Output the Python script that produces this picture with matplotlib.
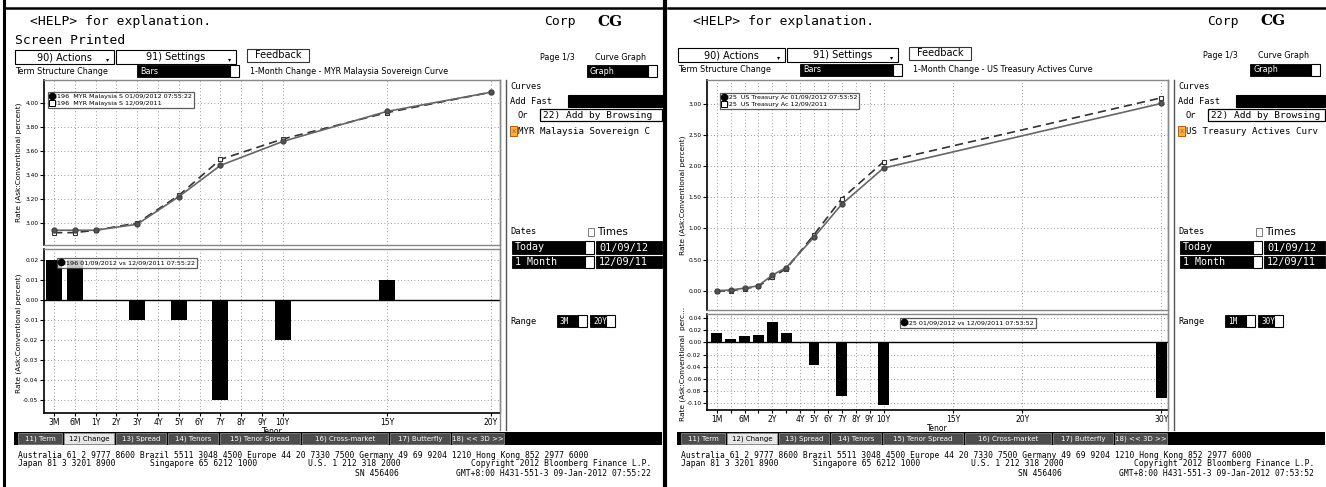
import matplotlib.pyplot as plt
from matplotlib.patches import Rectangle
from matplotlib.lines import Line2D

W, H = 1326, 487

# MYR Malaysia Sovereign curve (left screen)
myr_tick_pos = [0, 1, 2, 3, 4, 5, 6, 7, 8, 9, 10, 11, 16, 21]
myr_tick_labels = ['3M', '6M', '1Y', '2Y', '3Y', '4Y', '5Y', '6Y', '7Y', '8Y', '9Y', '10Y', '15Y', '20Y']
myr_pos = [0, 1, 2, 4, 6, 8, 11, 16, 21]
myr_today = [2.94, 2.94, 2.94, 2.99, 3.22, 3.48, 3.68, 3.93, 4.09]
myr_month = [2.92, 2.92, 2.94, 3.00, 3.23, 3.53, 3.70, 3.92, 4.09]
myr_change = [0.02, 0.02, 0.00, -0.01, -0.01, -0.05, -0.02, 0.01, 0.00]
myr_rate_ticks = [4.00, 3.80, 3.60, 3.40, 3.20, 3.00]
myr_change_ticks = [0.02, 0.01, 0.00, -0.01, -0.02, -0.03, -0.04, -0.05]

# US Treasury Actives curve (right screen)
ust_tick_pos = [0, 1, 2, 3, 4, 5, 6, 7, 8, 9, 10, 11, 12, 17, 22, 32]
ust_tick_labels = ['1M', '', '6M', '', '2Y', '', '4Y', '5Y', '6Y', '7Y', '8Y', '9Y', '10Y', '15Y', '20Y', '30Y']
ust_pos = [0, 1, 2, 3, 4, 5, 7, 9, 12, 32]
ust_today = [0.00, 0.01, 0.04, 0.08, 0.25, 0.37, 0.86, 1.39, 1.97, 3.01]
ust_month = [-0.01, 0.00, 0.03, 0.07, 0.22, 0.35, 0.90, 1.48, 2.07, 3.10]
ust_change = [0.015, 0.006, 0.010, 0.012, 0.034, 0.016, -0.037, -0.089, -0.103, -0.091]
ust_rate_ticks = [3.00, 2.50, 2.00, 1.50, 1.00, 0.50, 0.00]
ust_change_ticks = [0.04, 0.02, 0.00, -0.02, -0.04, -0.06, -0.08, -0.10]

tabs = ['11) Term', '12) Change', '13) Spread', '14) Tenors', '15) Tenor Spread',
        '16) Cross-market', '17) Butterfly', '18) << 3D >>']
tab_edges = [(18, 62), (64, 114), (116, 166), (168, 218), (220, 300), (302, 388), (390, 450), (452, 504)]

MONO = 'DejaVu Sans Mono'
SANS = 'DejaVu Sans'

fig = plt.figure(figsize=(W / 100, H / 100), dpi=100)
fig.patch.set_facecolor('white')


def fx(x):
    return x / W


def fy(y):
    return 1 - y / H


def txt(x, y, s, size=6, family=SANS, color='black', ha='left', **kw):
    fig.text(fx(x), fy(y), s, fontsize=size, family=family, color=color,
             ha=ha, va='center', **kw)


def box(x0, y0, x1, y1, fc='black', ec='black', lw=0.8):
    fig.patches.append(Rectangle((fx(x0), fy(y1)), (x1 - x0) / W, (y1 - y0) / H,
                                 transform=fig.transFigure, facecolor=fc,
                                 edgecolor=ec, linewidth=lw))


def line(x0, y0, x1, y1, color='black', lw=1.0):
    fig.lines.append(Line2D([fx(x0), fx(x1)], [fy(y0), fy(y1)],
                            transform=fig.transFigure, color=color, linewidth=lw))


def dark_field(x0, y0, x1, y1, label, size=6, family=SANS, tail=True):
    box(x0, y0, x1, y1, fc='black', ec='black', lw=0.6)
    txt(x0 + 3, (y0 + y1) / 2, label, size=size, family=family, color='white')
    if tail:
        box(x1, y0, x1 + 9, y1, fc='white', ec='black', lw=0.8)


def axes_at(x0, y0, x1, y1):
    return fig.add_axes([fx(x0), fy(y1), (x1 - x0) / W, (y1 - y0) / H])


def style_axes(ax, yticks, ylim, xlim, gridx):
    ax.set_xlim(*xlim)
    ax.set_ylim(*ylim)
    ax.set_yticks(yticks)
    ax.set_yticklabels(['%.2f' % v for v in yticks])
    ax.set_xticks(gridx)
    ax.tick_params(axis='y', direction='out', length=3, width=0.8, labelsize=4.2, pad=1)
    ax.grid(True, linestyle=(0, (1, 3)), color='#777777', linewidth=0.6)
    ax.set_axisbelow(True)
    for s in ['top', 'right', 'bottom']:
        ax.spines[s].set_color('#888888')
        ax.spines[s].set_linewidth(1.0)
    ax.spines['left'].set_color('black')
    ax.spines['left'].set_linewidth(1.2)


def draw_charts(px0, px1, top_y, split_y, bot_y, xlim, tick_pos, tick_labels,
                pos, today, month, change, rate_ticks, rate_lim, chg_ticks, chg_lim,
                top_leg, bot_leg, top_labels, bot_label, ylab_x, bot_ylab):
    ax1 = axes_at(px0, top_y, px1, split_y)
    style_axes(ax1, rate_ticks, rate_lim, xlim, tick_pos)
    ax1.tick_params(axis='x', length=0, labelbottom=False)
    ax1.plot(pos, month, linestyle=(0, (5, 3)), color='#333333', linewidth=1.2,
             marker='s', markersize=3.5, markerfacecolor='white',
             markeredgecolor='#333333', markeredgewidth=0.8, zorder=3)
    ax1.plot(pos, today, linestyle='-', color='#666666', linewidth=1.2,
             marker='o', markersize=3.5, markerfacecolor='#555555',
             markeredgecolor='#444444', zorder=4)
    handles = [Line2D([], [], marker='o', ls='none', color='black', markersize=4.5),
               Line2D([], [], marker='s', ls='none', markerfacecolor='white',
                      markeredgecolor='black', markersize=4.5, markeredgewidth=0.7)]
    leg = ax1.legend(handles, top_labels, loc='upper left', bbox_to_anchor=top_leg,
                     fontsize=4.6, frameon=True, fancybox=False, borderpad=0.3,
                     labelspacing=0.15, handlelength=0.6, handletextpad=0.15,
                     borderaxespad=0)
    leg.get_frame().set_edgecolor('#333333')
    leg.get_frame().set_linewidth(0.9)

    ax2 = axes_at(px0, split_y + 4, px1, bot_y)
    style_axes(ax2, chg_ticks, chg_lim, xlim, tick_pos)
    ax2.spines['bottom'].set_color('black')
    ax2.spines['bottom'].set_linewidth(1.2)
    ax2.bar(pos, change, width=0.77, color='black', zorder=3)
    ax2.axhline(0, color='black', linewidth=1.0, zorder=2)
    ax2.set_xticklabels(tick_labels)
    ax2.tick_params(axis='x', direction='out', length=2, labelsize=5.5, pad=1.5)
    ax2.set_xlabel('Tenor', fontsize=5.5, labelpad=0)
    h = [Line2D([], [], marker='o', ls='none', color='black', markersize=4.5)]
    leg2 = ax2.legend(h, [bot_label], loc='upper left', bbox_to_anchor=bot_leg,
                      fontsize=4.6, frameon=True, fancybox=False, borderpad=0.35,
                      handlelength=0.6, handletextpad=0.15, borderaxespad=0)
    leg2.get_frame().set_edgecolor('#333333')
    leg2.get_frame().set_linewidth(0.9)
    leg2.set_zorder(10)

    txt(ylab_x, (top_y + split_y) / 2, 'Rate (Ask:Conventional percent)', size=5.3,
        ha='center', rotation=90)
    txt(ylab_x, (split_y + bot_y) / 2 + 4, bot_ylab, size=5.3, ha='center', rotation=90)


def draw_screen(ox, help_y, act_y, row_y, screen_printed, curve_title, curve_name,
                act_w, set_w, range_lo, range_hi, stamp, panel_x, plot_right):
    txt(ox + 30, help_y, '<HELP> for explanation.', size=9.4, family=MONO)
    txt(ox + 544, help_y, 'Corp', size=9.4, family=MONO)
    txt(ox + 597, help_y, 'CG', size=11, family='DejaVu Serif', weight='bold')
    if screen_printed:
        txt(ox + 15, 40, 'Screen Printed', size=9.4, family=MONO)

    # action buttons
    a0 = ox + 15
    box(a0, act_y - 7, a0 + act_w, act_y + 7, fc='white', ec='black', lw=0.8)
    txt(a0 + act_w / 2, act_y, '90) Actions', size=7, ha='center')
    txt(a0 + act_w - 6, act_y + 3, '\u25be', size=4.5, ha='center')
    s0 = a0 + act_w + 2
    box(s0, act_y - 7, s0 + set_w, act_y + 7, fc='white', ec='black', lw=0.8)
    txt(s0 + set_w / 2, act_y, '91) Settings', size=7, ha='center')
    txt(s0 + set_w - 6, act_y + 3, '\u25be', size=4.5, ha='center')
    f0 = s0 + set_w + 11
    box(f0, act_y - 8, f0 + 62, act_y + 5, fc='white', ec='#333333', lw=0.8)
    txt(f0 + 31, act_y - 1.5, 'Feedback', size=7, ha='center')
    txt(ox + 540, act_y, 'Page 1/3', size=5.8)
    txt(ox + 595, act_y, 'Curve Graph', size=5.8)

    txt(ox + 15, row_y, 'Term Structure Change', size=5.8)
    dark_field(ox + 137, row_y - 6, ox + 230, row_y + 6, 'Bars', size=5.8)
    txt(ox + 250, row_y, curve_title, size=5.8)
    dark_field(ox + 587, row_y - 6, ox + 648, row_y + 6, 'Graph', size=5.8)

    # side panel
    line(plot_right, 80, plot_right, 430, color='#888888', lw=1.0)
    line(panel_x, 80, panel_x, 430, color='#555555', lw=1.0)
    px = panel_x + 4
    txt(px, 86, 'Curves', size=6.3, family=MONO)
    txt(px, 101, 'Add Fast', size=6.3, family=MONO)
    box(px + 58, 95, ox + 662, 107, fc='black', ec='black')
    txt(px + 8, 115, 'Or', size=6.3, family=MONO)
    box(px + 30, 109, ox + 662, 121, fc='white', ec='black', lw=0.9)
    txt(px + 33, 115, '22) Add by Browsing', size=6.8, family=MONO)
    box(px, 126, px + 7, 136, fc='#f6b24a', ec='#c05a00', lw=0.7)
    txt(px + 3.5, 131, 'x', size=5, color='#c05a00', ha='center')
    txt(px + 8, 131, curve_name, size=6.6, family=MONO)

    txt(px, 232, 'Dates', size=6.3, family=MONO)
    box(px + 78, 228, px + 84, 236, fc='white', ec='#666666', lw=0.6)
    txt(px + 87, 232, 'Times', size=7.5)
    dark_field(px + 2, 241, px + 75, 254, 'Today', size=7.2, family=MONO)
    dark_field(px + 86, 241, ox + 662, 254, '01/09/12', size=7.4, family=MONO, tail=False)
    dark_field(px + 2, 256, px + 75, 268, '1 Month', size=7.2, family=MONO)
    dark_field(px + 86, 256, ox + 662, 268, '12/09/11', size=7.4, family=MONO, tail=False)

    txt(px, 321, 'Range', size=6.3, family=MONO)
    dark_field(px + 47, 315, px + 68, 327, range_lo, size=5.5, family=MONO)
    dark_field(px + 80, 315, px + 96, 327, range_hi, size=5.5, family=MONO)

    # tab bar
    box(ox + 14, 432, ox + 662, 445, fc='black', ec='black', lw=0)
    for lab, (t0, t1) in zip(tabs, tab_edges):
        active = lab.startswith('12)')
        box(ox + t0, 433, ox + t1, 444, fc='#e6e6e6' if active else '#4d4d4d',
            ec='#999999', lw=0.5)
        txt(ox + (t0 + t1) / 2, 438.5, lab, size=5.0, ha='center',
            color='black' if active else 'white')

    # footer
    txt(ox + 18, 455, 'Australia 61 2 9777 8600 Brazil 5511 3048 4500 Europe 44 20 7330 7500 '
        'Germany 49 69 9204 1210 Hong Kong 852 2977 6000', size=5.8, family=MONO)
    txt(ox + 18, 464, 'Japan 81 3 3201 8900', size=5.8, family=MONO)
    txt(ox + 150, 464, 'Singapore 65 6212 1000', size=5.8, family=MONO)
    txt(ox + 308, 464, 'U.S. 1 212 318 2000', size=5.8, family=MONO)
    txt(ox + 651, 464, 'Copyright 2012 Bloomberg Finance L.P.', size=5.8, family=MONO, ha='right')
    txt(ox + 355, 473, 'SN 456406', size=5.8, family=MONO)
    txt(ox + 651, 473, 'GMT+8:00 H431-551-3 09-Jan-2012 ' + stamp, size=5.8,
        family=MONO, ha='right')


# screen frames
line(4, 0, 4, 487, lw=2.2)
line(4, 8, 663, 8, lw=1.8)
line(665, 0, 665, 487, lw=3.0)
line(668, 8, 1326, 8, lw=1.8)

draw_screen(0, 22, 57, 71, True, '1-Month Change - MYR Malaysia Sovereign Curve',
            'MYR Malaysia Sovereign C', 99, 120, '3M', '20Y', '07:55:22', 506, 500)
draw_screen(663, 21, 55, 70, False, '1-Month Change - US Treasury Actives Curve',
            'US Treasury Actives Curv', 107, 111, '1M', '30Y', '07:53:52', 1174, 1168)

draw_charts(44, 500, 80, 245, 413, (-0.48, 21.44), myr_tick_pos, myr_tick_labels,
            myr_pos, myr_today, myr_month, myr_change,
            myr_rate_ticks, (2.817, 4.192), myr_change_ticks, (-0.0565, 0.0255),
            (0.009, 0.927), (0.0285, 0.945),
            ['I196  MYR Malaysia S 01/09/2012 07:55:22', 'I196  MYR Malaysia S 12/09/2011'],
            'I196 01/09/2012 vs 12/09/2011 07:55:22', 19,
            'Rate (Ask:Conventional percent)')

draw_charts(707, 1168, 80, 310, 410, (-0.70, 32.47), ust_tick_pos, ust_tick_labels,
            ust_pos, ust_today, ust_month, ust_change,
            ust_rate_ticks, (-0.311, 3.386), ust_change_ticks, (-0.1114, 0.0468),
            (0.028, 0.943), (0.419, 0.959),
            ['I25  US Treasury Ac 01/09/2012 07:53:52', 'I25  US Treasury Ac 12/09/2011'],
            'I25 01/09/2012 vs 12/09/2011 07:53:52', 683,
            'Rate (Ask:Conventional  perc...')

fig.savefig('out.png', dpi=100)
